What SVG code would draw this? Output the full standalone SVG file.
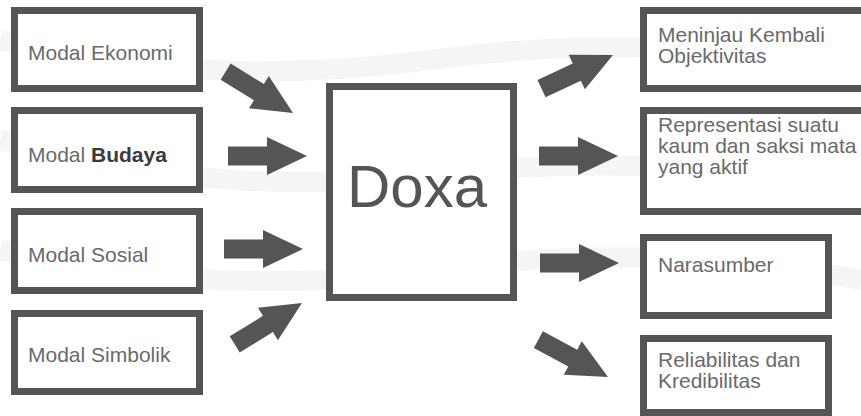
<svg xmlns="http://www.w3.org/2000/svg" width="861" height="416" viewBox="0 0 861 416">
<style>
.box{fill:#fff;stroke:#555;stroke-width:7}
.lbl{font-family:"Liberation Sans",Arial,sans-serif;font-size:21px;fill:#6a6a6a}
.b{font-weight:bold;fill:#3a3a3a}
.big{font-family:"Liberation Sans",Arial,sans-serif;font-size:60px;fill:#555}
.arr{fill:#555}
.wm{fill:none;stroke:#f5f5f5}
</style>
<defs>
<path id="arrow" d="M-79,-9.5 H-40 V-19 L0,0 L-40,19 V9.5 H-79 Z"/>
</defs>
<rect width="861" height="416" fill="#fff"/>
<g id="watermark">
<path class="wm" stroke-width="20" d="M0,40 Q200,90 430,60 Q650,30 861,70"/>
<path class="wm" stroke-width="20" d="M0,140 Q220,200 430,175 Q650,150 861,190"/>
<path class="wm" stroke-width="20" d="M0,250 Q220,300 430,270 Q650,240 861,280"/>
</g>
<g id="modal-ekonomi"><rect class="box" x="14.5" y="10.5" width="185" height="78"/><text class="lbl" x="28" y="60">Modal Ekonomi</text></g>
<g id="modal-budaya"><rect class="box" x="14.5" y="110.5" width="185" height="79"/><text class="lbl" x="28" y="162">Modal <tspan class="b">Budaya</tspan></text></g>
<g id="modal-sosial"><rect class="box" x="14.5" y="211.5" width="185" height="79"/><text class="lbl" x="28" y="262">Modal Sosial</text></g>
<g id="modal-simbolik"><rect class="box" x="14.5" y="313.5" width="185" height="78"/><text class="lbl" x="28" y="362">Modal Simbolik</text></g>
<g id="doxa"><rect class="box" x="329.5" y="86.5" width="184" height="211"/><text class="big" x="347" y="207">Doxa</text></g>
<g id="meninjau"><rect class="box" x="643.5" y="10.5" width="230" height="78"/><text class="lbl" x="658" y="42">Meninjau Kembali<tspan x="658" y="63">Objektivitas</tspan></text></g>
<g id="representasi"><rect class="box" x="643.5" y="110.5" width="230" height="101"/><text class="lbl" x="658" y="132">Representasi suatu<tspan x="658" y="153">kaum dan saksi mata</tspan><tspan x="658" y="174">yang aktif</tspan></text></g>
<g id="narasumber"><rect class="box" x="643.5" y="237.5" width="185" height="78"/><text class="lbl" x="658" y="272">Narasumber</text></g>
<g id="reliabilitas"><rect class="box" x="643.5" y="338.5" width="185" height="74"/><text class="lbl" x="658" y="367">Reliabilitas dan<tspan x="658" y="388">Kredibilitas</tspan></text></g>
<g id="connectors" class="arr">
<use href="#arrow" transform="translate(293,113) rotate(31.5)"/>
<use href="#arrow" transform="translate(307,156)"/>
<use href="#arrow" transform="translate(303,249)"/>
<use href="#arrow" transform="translate(302,303) rotate(-31.6)"/>
<use href="#arrow" transform="translate(613,55) rotate(-25.2)"/>
<use href="#arrow" transform="translate(618,156)"/>
<use href="#arrow" transform="translate(619,263)"/>
<use href="#arrow" transform="translate(608,377) rotate(28.2)"/>
</g>
</svg>
